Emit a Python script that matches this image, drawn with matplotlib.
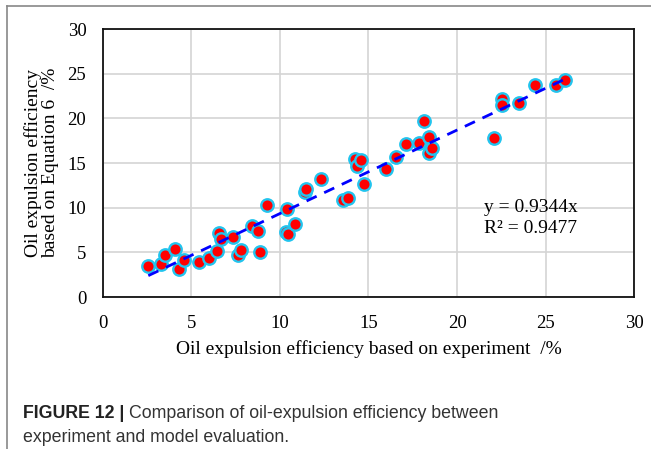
import matplotlib
matplotlib.use("Agg")
import matplotlib.pyplot as plt
from matplotlib.lines import Line2D
import numpy as np

# experiment (x) vs model from Equation 6 (y), in %
exp_eff = [2.56, 3.26, 3.52, 4.05, 4.31, 4.56, 5.4, 5.97, 6.46, 6.53, 6.67, 7.34,
           7.6, 7.81, 8.4, 8.74, 8.89, 9.28, 10.34, 10.43, 10.4, 10.86, 11.4, 11.47,
           12.33, 13.58, 13.86, 14.26, 14.37, 14.58, 14.75, 16.0, 16.57, 17.1,
           17.85, 18.15, 18.4, 18.4, 18.6, 22.1, 22.56, 22.56, 23.5, 24.4, 25.6, 26.1]
eq6_eff = [3.43, 3.66, 4.66, 5.33, 3.17, 4.18, 3.92, 4.37, 5.11, 7.13, 6.46, 6.68,
           4.66, 5.26, 7.98, 7.35, 5.07, 10.27, 7.24, 7.0, 9.9, 8.17, 11.75, 12.1,
           13.25, 10.9, 11.1, 15.5, 14.7, 15.3, 12.6, 14.3, 15.7, 17.1,
           17.2, 19.7, 17.95, 16.1, 16.7, 17.8, 22.2, 21.5, 21.7, 23.7, 23.7, 24.3]
slope = 0.9344
r2 = 0.9477
ticks = [0, 5, 10, 15, 20, 25, 30]

serif = "Liberation Serif"

fig = plt.figure(figsize=(6.51, 4.49), dpi=100)
ax = fig.add_axes([0.1582, 0.3385, 0.8157, 0.5969])

ax.scatter(exp_eff, eq6_eff, s=80, facecolor="#ff0000", edgecolor="#22c4ee",
           linewidth=1.7, zorder=3)

xs = np.array([min(exp_eff), max(exp_eff)])
ax.plot(xs, slope * xs, color="#0000ff", linestyle=(0, (4, 3)), linewidth=2, zorder=4)

ax.set_xlim(0, 30)
ax.set_ylim(0, 30)
ax.set_xticks(ticks)
ax.set_yticks(ticks)
ax.grid(True, color="#d4d4d4", linewidth=1.2)
ax.set_axisbelow(True)
ax.tick_params(length=0, labelsize=13.5, pad=12)
ax.tick_params(axis="x", pad=13)
for lab in ax.get_xticklabels() + ax.get_yticklabels():
    lab.set_fontfamily(serif)
for sp in ax.spines.values():
    sp.set_linewidth(1.3)
    sp.set_color("#111111")

ax.set_xlabel("Oil expulsion efficiency based on experiment  /%", fontsize=14,
              family=serif, labelpad=6)
ax.set_ylabel("Oil expulsion efficiency\nbased on Equation 6  /%", fontsize=14,
              family=serif, labelpad=6, linespacing=1.05)

ax.text(21.5, 10.0, "y = %.4fx" % slope, fontsize=14, family=serif, va="center")
ax.text(21.5, 7.7, "R² = %.4f" % r2, fontsize=14, family=serif, va="center")

# frame of the figure panel
fig.add_artist(Line2D([7 / 651, 1], [1 - 6 / 449, 1 - 6 / 449], color="#888888", linewidth=1.2))
fig.add_artist(Line2D([7 / 651, 7 / 651], [0, 1 - 6 / 449], color="#888888", linewidth=1.2))

# caption
cap_font = "Liberation Sans"
t1 = fig.text(23 / 651, 1 - 414 / 449, "FIGURE 12 | ", fontsize=12.8, family=cap_font,
              weight="bold", color="#222222", va="center")
fig.canvas.draw()
bb = t1.get_window_extent(renderer=fig.canvas.get_renderer())
fig.text(bb.x1 / fig.bbox.width, 1 - 414 / 449, "Comparison of oil-expulsion efficiency between",
         fontsize=12.8, family=cap_font, color="#333333", va="center")
fig.text(23 / 651, 1 - 438 / 449, "experiment and model evaluation.",
         fontsize=12.8, family=cap_font, color="#333333", va="center")

fig.savefig("out.png", dpi=100)
